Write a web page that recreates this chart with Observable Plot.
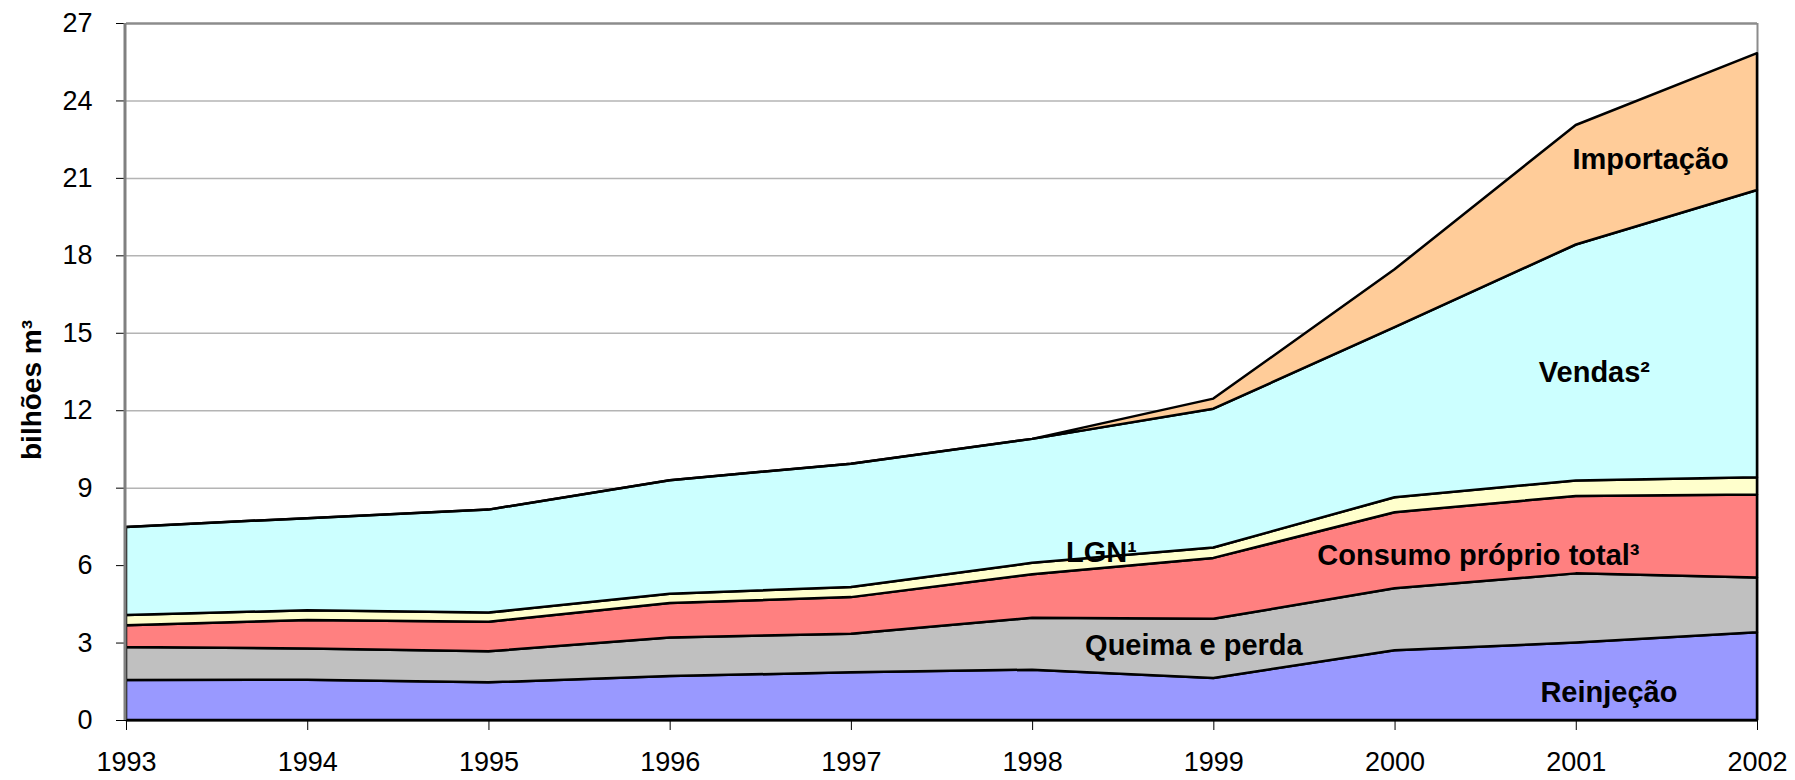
<!DOCTYPE html>
<html>
<head>
<meta charset="utf-8">
<script src="https://cdn.jsdelivr.net/npm/d3@7"></script>
<script src="https://cdn.jsdelivr.net/npm/@observablehq/plot@0.6"></script>
<style>
  html, body { margin: 0; padding: 0; background: #fff; }
  svg { display: block; }
</style>
</head>
<body>
<div id="chart"></div>
<script>
// ---- data (billion m³), stacked bottom → top ----
const years = [1993, 1994, 1995, 1996, 1997, 1998, 1999, 2000, 2001, 2002];
const series = ["Reinjeção", "Queima e perda", "Consumo próprio total³", "LGN¹", "Vendas²", "Importação"];
const reinjecao  = [1.55, 1.56, 1.46, 1.70, 1.85, 1.95, 1.63, 2.70, 3.00, 3.40];
const queima     = [1.28, 1.21, 1.20, 1.50, 1.49, 2.01, 2.29, 2.40, 2.68, 2.12];
const consumo    = [0.84, 1.10, 1.15, 1.33, 1.42, 1.69, 2.36, 2.95, 3.00, 3.22];
const lgn        = [0.40, 0.38, 0.35, 0.36, 0.39, 0.44, 0.40, 0.58, 0.60, 0.66];
const vendas     = [3.41, 3.57, 3.99, 4.40, 4.78, 4.80, 5.38, 6.59, 9.14, 11.13];
const importacao = [0.00, 0.00, 0.00, 0.00, 0.00, 0.00, 0.39, 2.24, 4.63, 5.30];
const colors = ["#9999FF", "#C0C0C0", "#FF8080", "#FFFFCC", "#CCFFFF", "#FFCC99"];
const yTicks = [0, 3, 6, 9, 12, 15, 18, 21, 24, 27];
const yTitle = "bilhões m³";
// in-chart labels, anchored in data coordinates (year, value)
const labelNames = ["Reinjeção", "Queima e perda", "Consumo próprio total³", "LGN¹", "Vendas²", "Importação"];
const labelYears = [2001.18, 1998.89, 2000.46, 1998.38, 2001.10, 2001.41];
const labelValues = [1.09, 2.91, 6.40, 6.51, 13.49, 21.74];

const valuesBySeries = [reinjecao, queima, consumo, lgn, vendas, importacao];
const data = series.flatMap((s, i) => years.map((yr, j) => ({year: yr, series: s, value: valuesBySeries[i][j]})));
const labels = labelNames.map((n, i) => ({name: n, year: labelYears[i], value: labelValues[i]}));

const chart = Plot.plot({
  width: 1795,
  height: 780,
  marginLeft: 126,
  marginRight: 38,
  marginTop: 23,
  marginBottom: 60,
  style: {fontFamily: "'Liberation Sans', Arial, sans-serif", fontSize: "27px", color: "#000", background: "#fff"},
  x: {domain: [1993, 2002], ticks: years, tickFormat: d => String(d), tickSize: 10, tickPadding: 21, label: null},
  y: {domain: [0, 27], ticks: yTicks, tickSize: 10, tickPadding: 24, label: null},
  color: {domain: series, range: colors},
  marks: [
    Plot.ruleY(yTicks.filter(t => t > 0 && t < 27), {stroke: "#b4b4b4", strokeWidth: 1.5}),
    Plot.ruleX([2002], {stroke: "#8c8c8c", strokeWidth: 2}),
    Plot.ruleY([27], {stroke: "#8c8c8c", strokeWidth: 2.5}),
    Plot.areaY(data, {x: "year", y: "value", z: "series", fill: "series", order: series,
      stroke: "#000", strokeWidth: 2.5, strokeLinejoin: "round"}),
    Plot.ruleX([1993], {stroke: "#808080", strokeWidth: 3, dx: -1.5}),
    Plot.ruleY([0], {stroke: "#000", strokeWidth: 2}),
    Plot.text(labels, {x: "year", y: "value", text: "name", fontWeight: "bold", fontSize: 29, fill: "#000"}),
    Plot.text([yTitle], {frameAnchor: "left", textAnchor: "middle", rotate: -90, dx: -94, dy: 18,
      fontWeight: "bold", fontSize: 28, fill: "#000"})
  ]
});
document.getElementById("chart").appendChild(chart);
</script>
</body>
</html>
